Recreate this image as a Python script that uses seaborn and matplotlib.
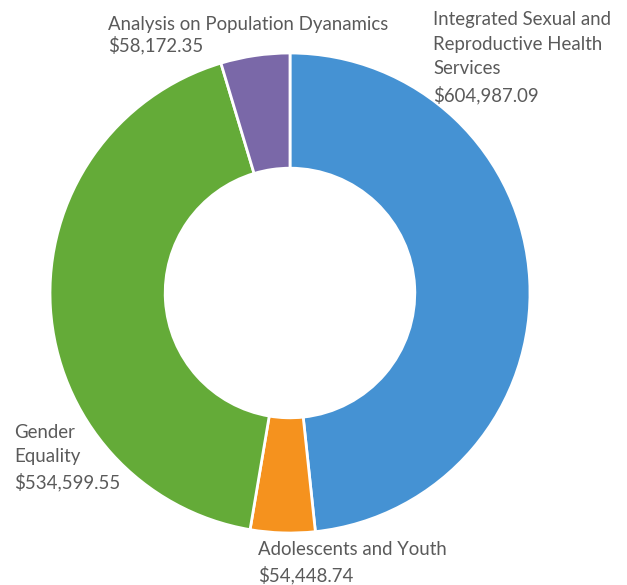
import matplotlib
matplotlib.use("Agg")
import matplotlib.pyplot as plt
import seaborn as sns

# programme areas, clockwise from 12 o'clock
areas = [
    "Integrated Sexual and\nReproductive Health\nServices",
    "Adolescents and Youth",
    "Gender\nEquality",
    "Analysis on Population Dyanamics",
]
amounts = [604987.09, 54448.74, 534599.55, 58172.35]
colors = ["#4592d3", "#f5921e", "#64ab38", "#7a68a8"]

sns.set_theme(style="white")
plt.rcParams["font.family"] = ["Lato", "DejaVu Sans"]

W, H = 627, 585
fig = plt.figure(figsize=(W / 100, H / 100), dpi=100)
# square axes holding the donut: centre (290, 293) px, radius 240 px
ax = fig.add_axes([50 / W, (H - 533) / H, 480 / W, 480 / H])

ax.pie(
    amounts,
    colors=colors,
    startangle=90,
    counterclock=False,
    radius=1,
    wedgeprops=dict(width=0.48, edgecolor="white", linewidth=2),
)
ax.set_xlim(-1, 1)
ax.set_ylim(-1, 1)
ax.set_aspect("equal")
ax.axis("off")

# label anchor positions (top-left corner, pixels)
label_pos = [(433, 11), (258, 541), (14, 424), (108, 16)]
spacing = [1.55, 1.5, 1.5, 1.2]

for name, val, (px, py), ls in zip(areas, amounts, label_pos, spacing):
    fig.text(
        px / W, 1 - py / H,
        f"{name}\n${val:,.2f}",
        ha="left", va="top",
        fontsize=13.4, color="#5a5a5a",
        linespacing=ls,
    )

fig.savefig("out.png", dpi=100, facecolor="white")
